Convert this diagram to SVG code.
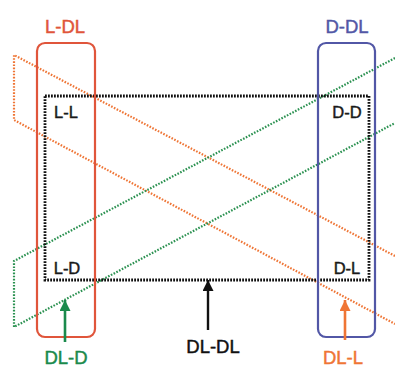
<svg xmlns="http://www.w3.org/2000/svg" width="395" height="368" viewBox="0 0 395 368">
<defs>
<style>
.lbl{font-family:"Liberation Sans",Arial,sans-serif;text-anchor:middle;stroke-width:0.45}
.inner{font-size:16.5px;fill:#1a1a1a;stroke:#1a1a1a}
.outer{font-size:18.5px}
.box{fill:none;stroke-width:2.2}
.dotc{fill:none;stroke-width:2.2;stroke-dasharray:1.6 1.5}
</style>
<marker id="hG" viewBox="0 0 10 10" refX="10" refY="5" markerWidth="11" markerHeight="11" markerUnits="userSpaceOnUse" orient="auto"><path d="M0,0L10,5L0,10z" fill="#1a8a4c"/></marker>
<marker id="hK" viewBox="0 0 10 10" refX="10" refY="5" markerWidth="11" markerHeight="11" markerUnits="userSpaceOnUse" orient="auto"><path d="M0,0L10,5L0,10z" fill="#111"/></marker>
<marker id="hO" viewBox="0 0 10 10" refX="10" refY="5" markerWidth="11" markerHeight="11" markerUnits="userSpaceOnUse" orient="auto"><path d="M0,0L10,5L0,10z" fill="#ef7535"/></marker>
</defs>
<rect width="395" height="368" fill="#fff"/>
<g id="orange-planes">
<polyline class="dotc" stroke="#ef7535" points="395,256 14,55 14,120 395,324"/>
</g>
<g id="green-planes">
<polyline class="dotc" stroke="#2a9150" points="395,58 14,261 14,327 395,123"/>
</g>
<g id="DL-DL-region">
<rect x="45" y="96" width="324" height="184" fill="none" stroke="#111" stroke-width="2.8" stroke-dasharray="1.8 1.2"/>
</g>
<g id="L-DL">
<rect class="box" x="37" y="43" width="58" height="294" rx="8" stroke="#e0553b"/>
<text class="lbl outer" x="65" y="33" fill="#e0553b" stroke="#e0553b">L-DL</text>
</g>
<g id="D-DL">
<rect class="box" x="318" y="43" width="57" height="294" rx="8" stroke="#5257a6"/>
<text class="lbl outer" x="347" y="33" fill="#5257a6" stroke="#5257a6">D-DL</text>
</g>
<g id="L-L"><text class="lbl inner" x="66" y="118">L-L</text></g>
<g id="D-D"><text class="lbl inner" x="347" y="118">D-D</text></g>
<g id="L-D"><text class="lbl inner" x="67" y="274">L-D</text></g>
<g id="D-L"><text class="lbl inner" x="347" y="274">D-L</text></g>
<g id="connectors">
<line x1="65" y1="342" x2="65" y2="300" stroke="#1a8a4c" stroke-width="2.6" marker-end="url(#hG)"/>
<line x1="208" y1="330" x2="208" y2="280" stroke="#111" stroke-width="2.4" marker-end="url(#hK)"/>
<line x1="345" y1="340" x2="345" y2="300" stroke="#ef7535" stroke-width="2.6" marker-end="url(#hO)"/>
</g>
<g id="DL-D"><text class="lbl outer" x="66" y="364" fill="#1a8a4c" stroke="#1a8a4c">DL-D</text></g>
<g id="DL-DL"><text class="lbl outer" x="213" y="353" font-size="20" fill="#111" stroke="#111">DL-DL</text></g>
<g id="DL-L"><text class="lbl outer" x="343" y="364" fill="#ef7535" stroke="#ef7535">DL-L</text></g>
</svg>
